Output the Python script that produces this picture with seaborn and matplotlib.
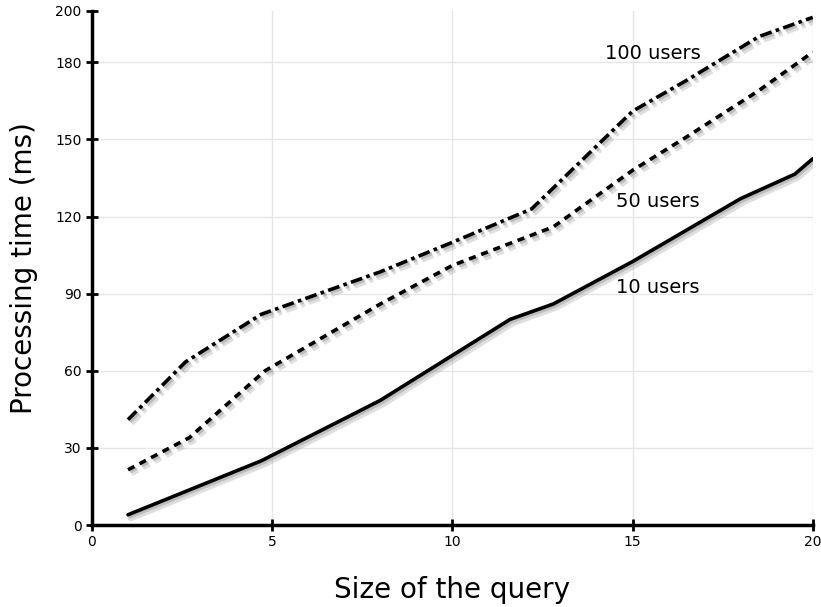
import matplotlib
matplotlib.use("Agg")
import matplotlib.pyplot as plt
import matplotlib.patheffects as pe
import seaborn as sns
import pandas as pd

# valeurs
x_10 = [1, 4.7, 8, 11.6, 12.8, 15, 18, 19.5, 20]
y_10 = [4, 25, 48.5, 80, 86, 102.5, 127, 136.5, 142.5]

x_50 = [1, 2.7, 4.8, 8, 10, 12.8, 15, 16.5, 18.5, 20]
y_50 = [21.5, 34, 60, 86, 101, 116, 138, 151, 169, 184]

x_100 = [1, 2.6, 4.7, 8, 10, 12.2, 15, 16.5, 18.5, 20]
y_100 = [41, 63.5, 82, 98.5, 110, 123, 161, 173, 190, 197.5]

series_labels = ["10 users", "50 users", "100 users"]
label_pos = [(14.55, 92.6), (14.55, 125.7), (14.23, 183.5)]

sns.set_style("white")
plt.rcParams['font.family'] = ['DejaVu Sans']

fig = plt.figure(figsize=(8.21, 6.07), dpi=100)
ax = fig.add_axes([0.112, 0.135, 0.878, 0.847])

shadow = [pe.SimpleLineShadow(offset=(2.2, -2.2), shadow_color='gray', alpha=0.25, linewidth=5),
          pe.SimpleLineShadow(offset=(1.5, -1.5), shadow_color='gray', alpha=0.35),
          pe.Normal()]

data = [(x_10, y_10, '-'), (x_50, y_50, (0, (2, 1.6))), (x_100, y_100, (0, (3.3, 1.2, 1, 1.2)))]
for (xs, ys, ls) in data:
    df = pd.DataFrame({'x': xs, 'y': ys})
    sns.lineplot(data=df, x='x', y='y', ax=ax, color='black', linewidth=2.6,
                 linestyle=ls, path_effects=shadow, sort=False)

for lab, (tx, ty) in zip(series_labels, label_pos):
    ax.text(tx, ty, lab, fontsize=14, ha='left', va='center', color='black')

ax.set_xlim(0, 20)
ax.set_ylim(0, 200)
ax.set_xticks([0, 5, 10, 15, 20])
ax.set_yticks([0, 30, 60, 90, 120, 150, 180, 200])
ax.grid(True, color='#e6e6e6', linewidth=1)
ax.get_ygridlines()[-1].set_visible(False)
ax.set_axisbelow(True)

sns.despine(ax=ax)
for s in ['left', 'bottom']:
    ax.spines[s].set_linewidth(2.5)
    ax.spines[s].set_color('black')
ax.tick_params(axis='both', bottom=True, left=True, direction='inout', length=8, width=2,
               labelsize=10, colors='black')

ax.set_xlabel("Size of the query", fontsize=20, labelpad=19, color='black')
ax.set_ylabel("Processing time (ms)", fontsize=20, labelpad=12, color='black')

plt.savefig("out.png", dpi=100)
